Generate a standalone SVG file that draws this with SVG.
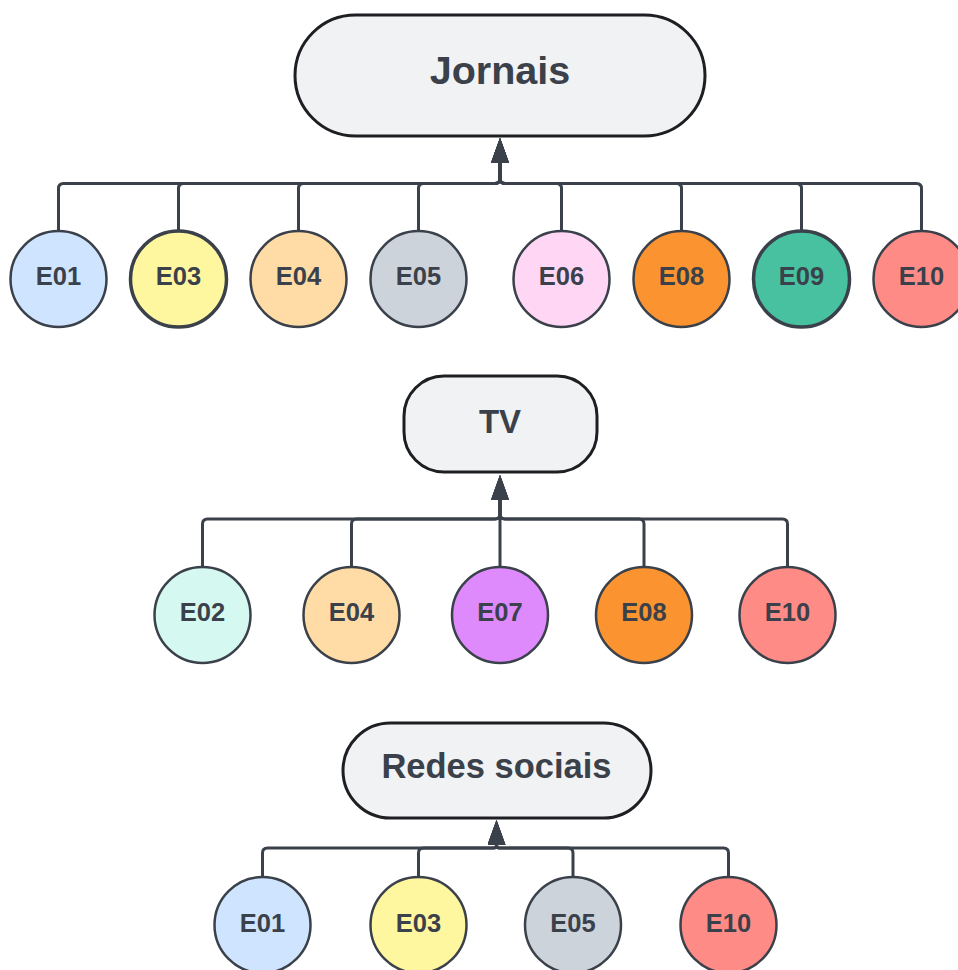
<svg xmlns="http://www.w3.org/2000/svg" width="958" height="970" viewBox="0 0 958 970">
  <style>
    .hub { fill: #f1f2f4; stroke: #1e1f22; stroke-width: 3; }
    .hub-label { font-family: "Liberation Sans", Arial, sans-serif; font-weight: bold; fill: #3a414a; text-anchor: middle; }
    .leaf { stroke: #3a414a; stroke-width: 2.5; }
    .leaf.thick { stroke-width: 3.5; }
    .leaf-label { font-family: "Liberation Sans", Arial, sans-serif; font-weight: bold; font-size: 25.5px; fill: #3a414a; text-anchor: middle; }
    .link { fill: none; stroke: #3a414a; stroke-width: 3; marker-end: url(#head); }
  </style>
  <defs>
    <marker id="head" viewBox="0 0 25 18" refX="0" refY="9" markerWidth="25" markerHeight="18" markerUnits="userSpaceOnUse" orient="auto">
      <path d="M0,0 L25,9 L0,18 z" fill="#3a414a"/>
    </marker>
  </defs>
  <rect width="958" height="970" fill="#ffffff"/>

  <!-- connectors: each leaf runs up to a shared bus, then into the hub -->
  <g id="connectors">
    <!-- Jornais: bus y=183.5, junction x=500, arrow base y=163 -->
    <path class="link" d="M58.5,231 V188.5 Q58.5,183.5 63.5,183.5 H495 Q500,183.5 500,178.5 V163"/>
    <path class="link" d="M178.5,231 V188.5 Q178.5,183.5 183.5,183.5 H495 Q500,183.5 500,178.5 V163"/>
    <path class="link" d="M298.5,231 V188.5 Q298.5,183.5 303.5,183.5 H495 Q500,183.5 500,178.5 V163"/>
    <path class="link" d="M418.5,231 V188.5 Q418.5,183.5 423.5,183.5 H495 Q500,183.5 500,178.5 V163"/>
    <path class="link" d="M561.5,231 V188.5 Q561.5,183.5 556.5,183.5 H505 Q500,183.5 500,178.5 V163"/>
    <path class="link" d="M681.5,231 V188.5 Q681.5,183.5 676.5,183.5 H505 Q500,183.5 500,178.5 V163"/>
    <path class="link" d="M801.5,231 V188.5 Q801.5,183.5 796.5,183.5 H505 Q500,183.5 500,178.5 V163"/>
    <path class="link" d="M921.5,231 V188.5 Q921.5,183.5 916.5,183.5 H505 Q500,183.5 500,178.5 V163"/>

    <!-- TV: bus y=519, junction x=500, arrow base y=500 -->
    <path class="link" d="M202.5,567 V524 Q202.5,519 207.5,519 H495 Q500,519 500,514 V500"/>
    <path class="link" d="M351.5,567 V524 Q351.5,519 356.5,519 H495 Q500,519 500,514 V500"/>
    <path class="link" d="M500,567 V500"/>
    <path class="link" d="M644,567 V524 Q644,519 639,519 H505 Q500,519 500,514 V500"/>
    <path class="link" d="M787.5,567 V524 Q787.5,519 782.5,519 H505 Q500,519 500,514 V500"/>

    <!-- Redes sociais: bus y=848, junction x=496.5, arrow base y=845 -->
    <path class="link" d="M262.5,877 V853 Q262.5,848 267.5,848 H493.5 Q496.5,848 496.5,845"/>
    <path class="link" d="M418.5,877 V853 Q418.5,848 423.5,848 H493.5 Q496.5,848 496.5,845"/>
    <path class="link" d="M573,877 V853 Q573,848 568,848 H499.5 Q496.5,848 496.5,845"/>
    <path class="link" d="M728.5,877 V853 Q728.5,848 723.5,848 H499.5 Q496.5,848 496.5,845"/>
  </g>

  <!-- hubs -->
  <g id="hub-jornais">
    <rect class="hub" x="295" y="15" width="410" height="121" rx="60.5"/>
    <text class="hub-label" x="500" y="84" font-size="39.5">Jornais</text>
  </g>
  <g id="hub-tv">
    <rect class="hub" x="404" y="376" width="193" height="96" rx="40"/>
    <text class="hub-label" x="500" y="433" font-size="33">TV</text>
  </g>
  <g id="hub-redes">
    <rect class="hub" x="343" y="723" width="308" height="95" rx="47.5"/>
    <text class="hub-label" x="496.5" y="778" font-size="34.5">Redes sociais</text>
  </g>

  <!-- Jornais leaves -->
  <g id="j-e01"><circle class="leaf" cx="58.5" cy="279" r="48" fill="#cfe4ff"/><text class="leaf-label" x="58.5" y="285">E01</text></g>
  <g id="j-e03"><circle class="leaf thick" cx="178.5" cy="279" r="48" fill="#fff6a0"/><text class="leaf-label" x="178.5" y="285">E03</text></g>
  <g id="j-e04"><circle class="leaf" cx="298.5" cy="279" r="48" fill="#ffdca6"/><text class="leaf-label" x="298.5" y="285">E04</text></g>
  <g id="j-e05"><circle class="leaf" cx="418.5" cy="279" r="48" fill="#cdd3db"/><text class="leaf-label" x="418.5" y="285">E05</text></g>
  <g id="j-e06"><circle class="leaf" cx="561.5" cy="279" r="48" fill="#ffd7f5"/><text class="leaf-label" x="561.5" y="285">E06</text></g>
  <g id="j-e08"><circle class="leaf" cx="681.5" cy="279" r="48" fill="#fb9430"/><text class="leaf-label" x="681.5" y="285">E08</text></g>
  <g id="j-e09"><circle class="leaf thick" cx="801.5" cy="279" r="48" fill="#48c1a0"/><text class="leaf-label" x="801.5" y="285">E09</text></g>
  <g id="j-e10"><circle class="leaf" cx="921.5" cy="279" r="48" fill="#ff8b87"/><text class="leaf-label" x="921.5" y="285">E10</text></g>

  <!-- TV leaves -->
  <g id="tv-e02"><circle class="leaf" cx="202.5" cy="615" r="48" fill="#d5f8f1"/><text class="leaf-label" x="202.5" y="621">E02</text></g>
  <g id="tv-e04"><circle class="leaf" cx="351.5" cy="615" r="48" fill="#ffdca6"/><text class="leaf-label" x="351.5" y="621">E04</text></g>
  <g id="tv-e07"><circle class="leaf" cx="500" cy="615" r="48" fill="#df8afc"/><text class="leaf-label" x="500" y="621">E07</text></g>
  <g id="tv-e08"><circle class="leaf" cx="644" cy="615" r="48" fill="#fb9430"/><text class="leaf-label" x="644" y="621">E08</text></g>
  <g id="tv-e10"><circle class="leaf" cx="787.5" cy="615" r="48" fill="#ff8b87"/><text class="leaf-label" x="787.5" y="621">E10</text></g>

  <!-- Redes sociais leaves -->
  <g id="rs-e01"><circle class="leaf" cx="262.5" cy="925" r="48" fill="#cfe4ff"/><text class="leaf-label" x="262.5" y="932">E01</text></g>
  <g id="rs-e03"><circle class="leaf" cx="418.5" cy="925" r="48" fill="#fff6a0"/><text class="leaf-label" x="418.5" y="932">E03</text></g>
  <g id="rs-e05"><circle class="leaf" cx="573" cy="925" r="48" fill="#cdd3db"/><text class="leaf-label" x="573" y="932">E05</text></g>
  <g id="rs-e10"><circle class="leaf" cx="728.5" cy="925" r="48" fill="#ff8b87"/><text class="leaf-label" x="728.5" y="932">E10</text></g>
</svg>
